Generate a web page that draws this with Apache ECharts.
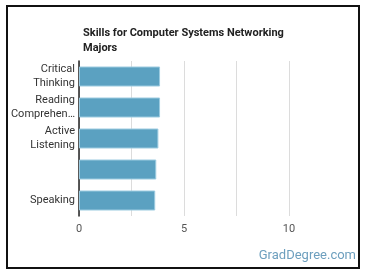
<!DOCTYPE html>
<html>
<head>
<meta charset="utf-8">
<script src="https://cdn.jsdelivr.net/npm/echarts@6/dist/echarts.min.js"></script>
<style>
html,body{margin:0;padding:0;background:#fff;}
#chart{width:370px;height:278px;}
</style>
</head>
<body>
<div id="chart"></div>
<script>
const titleText = "Skills for Computer Systems Networking\nMajors";
const categories = ["Critical\nThinking", "Reading\nComprehen…", "Active\nListening", "", "Speaking"];
const values = [3.86, 3.86, 3.78, 3.68, 3.63];
const tickLabels = [0, 5, 10];

const chart = echarts.init(document.getElementById('chart'), null, {renderer: 'canvas'});
chart.setOption({
  animation: false,
  backgroundColor: '#fff',
  textStyle: {fontFamily: 'Roboto'},
  title: {
    text: titleText,
    left: 78, top: 21,
    textStyle: {fontFamily: 'Roboto', fontSize: 11, fontWeight: 'bold', color: '#222', lineHeight: 15}
  },
  grid: {left: 79, top: 61, bottom: 62, right: 28.5, containLabel: false},
  xAxis: {
    type: 'value', min: 0, max: 12.5, interval: 2.5,
    axisLine: {show: false}, axisTick: {show: false},
    splitLine: {show: true, showMaxLine: false, lineStyle: {color: '#dcdcdc', width: 1}},
    axisLabel: {
      color: '#555', fontSize: 11, margin: 8, fontFamily: 'Roboto',
      formatter: v => tickLabels.includes(v) ? String(v) : ''
    }
  },
  yAxis: {
    type: 'category', data: categories, inverse: true,
    axisLine: {show: true, lineStyle: {color: '#222', width: 1.5}},
    axisTick: {show: false},
    axisLabel: {color: '#333', fontSize: 11, lineHeight: 14, margin: 4, align: 'right', fontFamily: 'Roboto'}
  },
  series: [{
    type: 'bar', data: values, barWidth: 20,
    itemStyle: {color: '#5ba1c1', borderColor: '#9ccbe0', borderWidth: 1}
  }],
  graphic: [
    {type: 'rect', shape: {x: 7, y: 6, width: 352, height: 262}, style: {fill: 'none', stroke: '#111', lineWidth: 2}, silent: true},
    {type: 'text', right: 14, top: 249, style: {text: 'GradDegree.com', fill: '#6d9fbe', font: '13px Roboto'}}
  ]
});
</script>
</body>
</html>
